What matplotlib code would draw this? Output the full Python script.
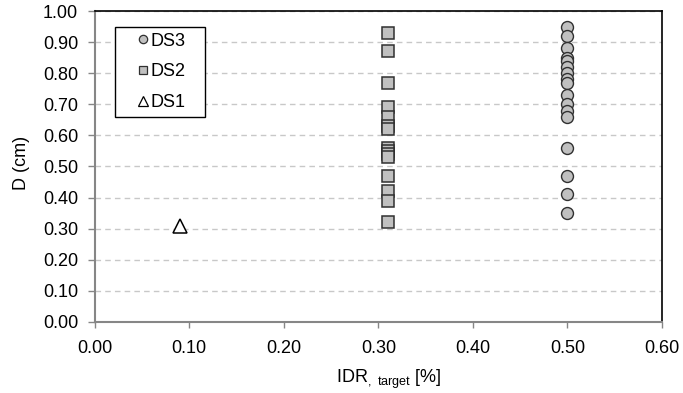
import matplotlib
matplotlib.use('Agg')
import matplotlib.pyplot as plt
from matplotlib.lines import Line2D

plt.rcParams['font.family'] = ['Liberation Sans', 'DejaVu Sans']
plt.rcParams['mathtext.fontset'] = 'custom'
plt.rcParams['mathtext.rm'] = 'Liberation Sans'

# data
ds1_x = [0.09]
ds1_y = [0.31]

ds2_x = [0.31] * 15
ds2_y = [0.93, 0.87, 0.77, 0.69, 0.66, 0.63, 0.62, 0.56, 0.55, 0.54, 0.53,
         0.47, 0.42, 0.39, 0.32]

ds3_x = [0.50] * 17
ds3_y = [0.95, 0.92, 0.88, 0.85, 0.84, 0.82, 0.80, 0.78, 0.77, 0.73, 0.70,
         0.68, 0.66, 0.56, 0.47, 0.41, 0.35]

x_ticks = [0.0, 0.1, 0.2, 0.3, 0.4, 0.5, 0.6]
y_ticks = [0.0, 0.1, 0.2, 0.3, 0.4, 0.5, 0.6, 0.7, 0.8, 0.9, 1.0]

fs = 13
face = '#C0C0C0'
edge = '#303030'

fig = plt.figure(figsize=(6.83, 3.93), dpi=100)
ax = fig.add_axes([0.1387, 0.1807, 0.8306, 0.7913])

ax.plot(ds1_x, ds1_y, linestyle='none', marker='^', markersize=9.5,
        markerfacecolor='white', markeredgecolor='black', markeredgewidth=1.1, zorder=3)
ax.plot(ds2_x, ds2_y, linestyle='none', marker='s', markersize=8.6,
        markerfacecolor=face, markeredgecolor=edge, markeredgewidth=1.1, zorder=3)
ax.plot(ds3_x, ds3_y, linestyle='none', marker='o', markersize=8.6,
        markerfacecolor=face, markeredgecolor=edge, markeredgewidth=1.0, zorder=3)

ax.set_xlim(0, 0.6)
ax.set_ylim(0, 1.0)
ax.set_xticks(x_ticks)
ax.set_yticks(y_ticks)
ax.set_xticklabels([f'{v:.2f}' for v in x_ticks], fontsize=fs)
ax.set_yticklabels([f'{v:.2f}' for v in y_ticks], fontsize=fs)
ax.tick_params(axis='x', direction='out', length=4, width=1, color='#868686', pad=9)
ax.tick_params(axis='y', direction='out', length=5, width=1, color='#868686', pad=7)

ax.yaxis.grid(True, linestyle=(0, (4, 3)), color='#C8C8C8', linewidth=1)
ax.set_axisbelow(True)

for side in ['left', 'bottom']:
    ax.spines[side].set_color('#868686')
    ax.spines[side].set_linewidth(1.5)
for side in ['top', 'right']:
    ax.spines[side].set_color('black')
    ax.spines[side].set_linewidth(1.2)

ax.set_ylabel('D (cm)', fontsize=fs)
ax.yaxis.set_label_coords(-0.114, 0.511)
ax.set_xlabel(r'IDR$_{\mathregular{,\ target}}$ [%]', fontsize=fs)
ax.xaxis.set_label_coords(0.519, -0.148)

handles = [
    Line2D([], [], linestyle='none', marker='o', markersize=6,
           markerfacecolor=face, markeredgecolor=edge, markeredgewidth=0.9),
    Line2D([], [], linestyle='none', marker='s', markersize=6,
           markerfacecolor=face, markeredgecolor=edge, markeredgewidth=0.9),
    Line2D([], [], linestyle='none', marker='^', markersize=6.5,
           markerfacecolor='white', markeredgecolor='black', markeredgewidth=0.9),
]
leg = ax.legend(handles, ['DS3', 'DS2', 'DS1'], loc='upper left',
                bbox_to_anchor=(0.036, 0.8495, 0.1586, 0.1), mode='expand',
                borderaxespad=0, fontsize=fs, frameon=True, fancybox=False,
                borderpad=0.33, labelspacing=0.76, handlelength=2.4,
                handletextpad=-0.8)
leg.get_frame().set_edgecolor('black')
leg.get_frame().set_linewidth(1.0)
leg.get_frame().set_alpha(1)

fig.savefig('out.png', dpi=100)
